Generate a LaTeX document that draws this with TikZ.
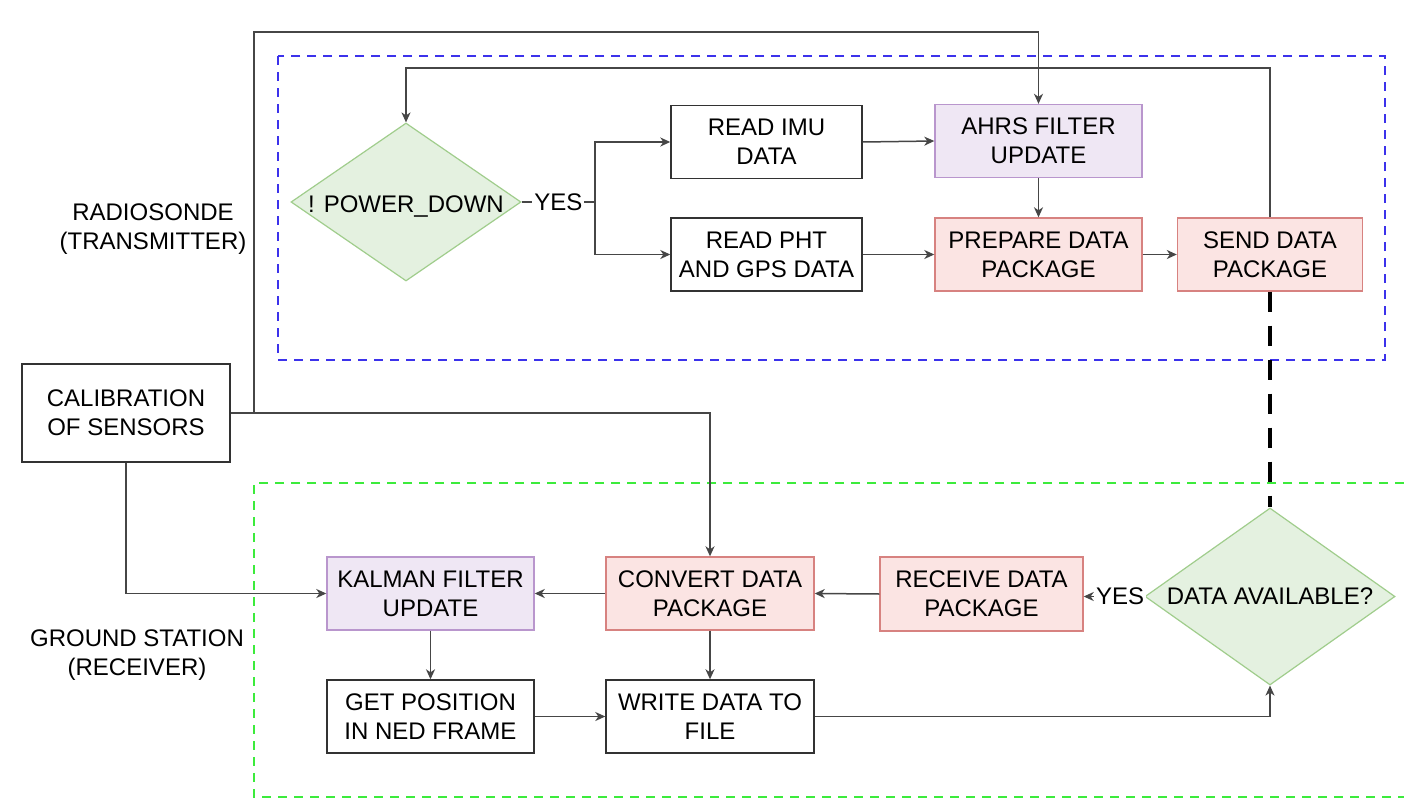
\documentclass[tikz,border=0pt]{standalone}
\usepackage{fontspec}
\setmainfont{Liberation Sans}
\usetikzlibrary{shapes.geometric,arrows.meta,calc}
\definecolor{conncol}{RGB}{70,70,70}
\definecolor{boxline}{RGB}{50,50,50}
\definecolor{pfill}{RGB}{239,231,244}
\definecolor{pline}{RGB}{185,150,205}
\definecolor{rfill}{RGB}{251,228,227}
\definecolor{rline}{RGB}{215,130,128}
\definecolor{gfill}{RGB}{228,241,224}
\definecolor{gline}{RGB}{160,205,140}
\definecolor{bluedash}{RGB}{60,50,235}
\definecolor{greendash}{RGB}{60,235,60}
\begin{document}
\begin{tikzpicture}[x=0.5pt,y=-0.5pt,
  every node/.style={font=\fontsize{12}{14.5}\selectfont},
  box/.style={rectangle,draw=boxline,line width=0.7pt,align=center,inner sep=0pt,minimum width=103.5pt,minimum height=36.5pt},
  purplebox/.style={box,fill=pfill,draw=pline},
  redbox/.style={box,fill=rfill,draw=rline},
  dia/.style={diamond,draw=gline,fill=gfill,line width=0.6pt,inner sep=0pt},
  wire/.style={draw=conncol,line width=0.75pt},
  conn/.style={wire,-{Stealth[length=5pt,width=4.5pt,inset=1.5pt]}},
  yeslabel/.style={fill=white,inner sep=1pt},
  region/.style={line width=1pt,dash pattern=on 4.5pt off 3.5pt},
  regionlabel/.style={align=center},
  dialabel/.style={text depth=0pt,yshift=-1pt}
]
\useasboundingbox (0,0) rectangle (1404,803);
\fill[white] (0,0) rectangle (1404,803);

% regions
\draw[region,draw=bluedash] (278,56) rectangle (1385,360);
\draw[region,draw=greendash] (1404,483) -- (254,483) -- (254,797) -- (1404,797);

\node[regionlabel] (radiolbl) at (153,229) {RADIOSONDE\\(TRANSMITTER)};
\node[regionlabel] (groundlbl) at (137,655) {GROUND STATION\\(RECEIVER)};

% nodes
\node[box,minimum width=104pt,minimum height=49pt] (calib) at (126,413) {CALIBRATION\\OF SENSORS};
\node[dia,minimum width=115pt,minimum height=79pt,label={[dialabel]center:! POWER\_DOWN}] (pd) at (406,202) {};
\node[box,minimum width=95.5pt] (imu) at (766.5,142) {READ IMU\\DATA};
\node[box,minimum width=95.5pt] (pht) at (766.5,254.5) {READ PHT\\AND GPS DATA};
\node[purplebox] (ahrs) at (1038.5,141) {AHRS FILTER\\UPDATE};
\node[redbox] (prep) at (1038.5,254.5) {PREPARE DATA\\PACKAGE};
\node[redbox,minimum width=92.5pt] (send) at (1270,254.5) {SEND DATA\\PACKAGE};

\node[purplebox] (kal) at (430.5,593.5) {KALMAN FILTER\\UPDATE};
\node[redbox,minimum width=104pt] (conv) at (710,593.5) {CONVERT DATA\\PACKAGE};
\node[redbox,minimum width=101.5pt,minimum height=37pt] (recv) at (981.5,594) {RECEIVE DATA\\PACKAGE};
\node[box] (getpos) at (430.5,716.5) {GET POSITION\\IN NED FRAME};
\node[box,minimum width=104pt] (write) at (710,716.5) {WRITE DATA TO\\FILE};
\node[dia,minimum width=125pt,minimum height=88.5pt,label={[dialabel,yshift=1pt]center:DATA AVAILABLE?}] (da) at (1270,596.5) {};

% coordinates
\coordinate (yb) at (595,202);
\coordinate (looptop) at (406,68);
\coordinate (cj) at (254,413);
\coordinate (ctop) at (1038.5,32);

% top connectors
\draw[wire] (pd.east) -- node[yeslabel] (yes1) {YES} (yb);
\draw[conn] (yb) |- (imu.west);
\draw[conn] (yb) |- (pht.west);
\draw[conn] (imu.east) -- (ahrs.west);
\draw[conn] (pht.east) -- (prep.west);
\draw[conn] (ahrs.south) -- (prep.north);
\draw[conn] (prep.east) -- (send.west);
\draw[conn] (send.north) |- (looptop) -- (pd.north);

% calibration connectors
\draw[conn] (calib.east) -- (cj) |- (ctop) -- (ahrs.north);
\draw[conn] (calib.east) -| (conv.north);
\draw[conn] (calib.south) |- (kal.west);

% bottom connectors
\draw[conn] (conv.west) -- (kal.east);
\draw[conn] (recv.west) -- (conv.east);
\draw[conn] (da.west) -- node[yeslabel,pos=0.4] (yes2) {YES} (recv.east |- da.west);
\draw[conn] (kal.south) -- (getpos.north);
\draw[conn] (conv.south) -- (write.north);
\draw[conn] (getpos.east) -- (write.west);
\draw[conn] (write.east) -| (da.south);

% radio link
\draw[line width=2pt,dash pattern=on 10pt off 7pt] (send.south) -- (da.north);
\end{tikzpicture}
\end{document}
